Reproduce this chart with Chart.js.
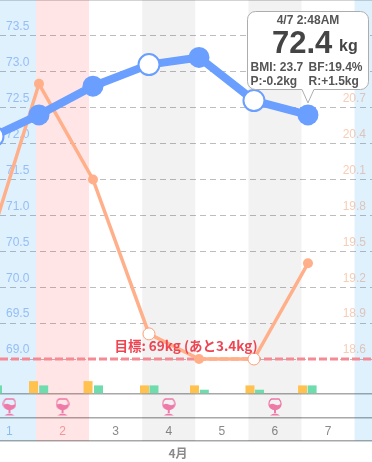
<!DOCTYPE html>
<html>
<head>
<meta charset="utf-8">
<script src="https://cdn.jsdelivr.net/npm/chart.js@4"></script>
<style>
  html, body { margin: 0; padding: 0; background: #fff; }
  #wrap { width: 372px; height: 462px; }
</style>
</head>
<body>
<div id="wrap"><canvas id="chart" width="372" height="462"></canvas></div>
<script>
// weighings (x = day of month + time of day)
const times = [1.19, 2.056, 3.073, 4.128, 5.07, 6.105, 7.122];
const weight = [72.1, 72.4, 72.8, 73.1, 73.2, 72.6, 72.4];
const bodyFat = [19.66, 20.9, 20.1, 18.81, 18.6, 18.6, 19.4];
const hollowWeight = [true, false, false, true, false, true, false];
const hollowFat = [false, false, false, true, false, true, false];

const days = [1, 2, 3, 4, 5, 6, 7];
const bandDays = [1, 2, 3, 4, 5, 6, 7, 8];
const bandColors = ['rgba(0,140,245,0.12)', 'rgba(255,0,10,0.1)', 'rgba(0,0,0,0)', 'rgba(0,0,0,0.05)',
    'rgba(0,0,0,0)', 'rgba(0,0,0,0.05)', 'rgba(0,0,0,0)', 'rgba(0,140,245,0.12)'];
const dayColors = ['#9cc3ee', '#f5a5a8', '#8a8a8a', '#8a8a8a', '#8a8a8a', '#8a8a8a', '#8a8a8a'];

const yellowX = [1.953, 2.98, 4.043, 4.985, 6.03, 7.02];
const yellowY = [3, 3, 2, 2, 2, 2];
const greenX = [1.275, 2.145, 3.177, 4.222, 5.17, 6.21, 7.2];
const greenY = [2, 2, 2, 2, 1, 1, 2];
const wineDays = [1.5, 2.5, 4.5, 6.5];

const weightTicks = [69, 69.5, 70, 70.5, 71, 71.5, 72, 72.5, 73, 73.5];
const fatTicks = [18.6, 18.9, 19.2, 19.5, 19.8, 20.1, 20.4, 20.7];
const goal = 69;
const goalText = '目標: 69kg (あと3.4kg)';
const monthText = '4月';

const xMin = 1.322, xMax = 8.328;
const barMin = -10.93, barMax = 91.63;
const wineY = -3.02;
const stripLines = [barMax, 0, -5.6, barMin];

const FONT = '"Liberation Sans", sans-serif';

// axes sit inside the plot, no room needed around it
const noPadding = (scale) => {
    scale.paddingLeft = 0;
    scale.paddingRight = 0;
    scale.paddingTop = 0;
    scale.paddingBottom = 0;
    if (!scale.isHorizontal()) {
        scale.width = 0;
    }
};

// small wine glass used as point style
function wineGlass() {
    let c = document.createElement('canvas');
    c.width = 14;
    c.height = 18;
    let g = c.getContext('2d');
    g.strokeStyle = '#ee7aa8';
    g.fillStyle = '#ee7aa8';
    g.lineWidth = 1.3;
    g.beginPath();
    g.moveTo(3, 1);
    g.lineTo(11, 1);
    g.bezierCurveTo(14.5, 5, 13.5, 11, 7, 11.5);
    g.bezierCurveTo(0.5, 11, -0.5, 5, 3, 1);
    g.stroke();
    g.beginPath();
    g.moveTo(1.2, 7);
    g.quadraticCurveTo(4, 5, 7, 6.5);
    g.quadraticCurveTo(10, 8, 12.8, 6);
    g.bezierCurveTo(13, 9, 11, 11.5, 7, 11.5);
    g.bezierCurveTo(3, 11.5, 1.3, 9.5, 1.2, 7);
    g.fill();
    g.fillRect(6, 11, 2, 4);
    g.beginPath();
    g.moveTo(2, 17.5);
    g.quadraticCurveTo(7, 13.5, 12, 17.5);
    g.fill();
    return c;
}

// speech bubble and goal caption
const overlay = {
    id: 'overlay',
    afterDraw(chart) {
        let ctx = chart.ctx;
        let px = chart.scales.x.getPixelForValue(times[6]);
        let py = chart.scales.y.getPixelForValue(weight[6]);

        ctx.save();
        ctx.textBaseline = 'middle';
        ctx.textAlign = 'center';
        ctx.fillStyle = '#ee4553';
        ctx.font = 'bold 13.5px "Noto Sans CJK JP", sans-serif';
        ctx.fillText(goalText, 186, 346);
        ctx.fillStyle = '#8a8a8a';
        ctx.font = 'bold 12px "Noto Sans CJK JP", sans-serif';
        ctx.fillText(monthText, 178, 453);

        ctx.strokeStyle = '#adadad';
        ctx.lineWidth = 1;
        ctx.beginPath();
        ctx.moveTo(px - 6, 89.5);
        ctx.lineTo(px, py - 12);
        ctx.lineTo(px + 6, 89.5);
        ctx.arcTo(368.5, 89.5, 368.5, 11.5, 8);
        ctx.arcTo(368.5, 11.5, 247.5, 11.5, 8);
        ctx.arcTo(247.5, 11.5, 247.5, 89.5, 8);
        ctx.arcTo(247.5, 89.5, px - 6, 89.5, 8);
        ctx.closePath();
        ctx.fillStyle = '#fff';
        ctx.fill();
        ctx.stroke();

        ctx.fillStyle = '#555';
        ctx.font = 'bold 12px ' + FONT;
        ctx.fillText('4/7 2:48AM', 308, 21);
        ctx.textAlign = 'left';
        ctx.fillStyle = '#444';
        ctx.font = 'bold 31px ' + FONT;
        ctx.fillText('72.4', 272, 44);
        ctx.font = 'bold 16px ' + FONT;
        ctx.fillText('kg', 339, 47);
        ctx.fillStyle = '#555';
        ctx.font = 'bold 12px ' + FONT;
        ctx.fillText('BMI: 23.7', 250.5, 68);
        ctx.fillText('BF:19.4%', 308.5, 68);
        ctx.fillText('P:-0.2kg', 250.5, 82);
        ctx.fillText('R:+1.5kg', 308.5, 82);
        ctx.restore();
    }
};

new Chart(document.getElementById('chart').getContext('2d'), {
    plugins: [overlay],
    data: {
        datasets: [{
            type: 'bar',
            order: 6,
            yAxisID: 'strip',
            data: bandDays.map(d => ({ x: d + 0.5, y: [barMin, barMax] })),
            backgroundColor: bandColors,
            barThickness: 53.1,
            inflateAmount: 0,
            grouped: false
        }, {
            type: 'bar',
            order: 5,
            yAxisID: 'strip',
            data: yellowX.map((x, i) => ({ x: x, y: yellowY[i] })),
            backgroundColor: '#ffc24f',
            barThickness: 9,
            inflateAmount: 0,
            grouped: false
        }, {
            type: 'bar',
            order: 5,
            yAxisID: 'strip',
            data: greenX.map((x, i) => ({ x: x, y: greenY[i] })),
            backgroundColor: '#6fdcae',
            barThickness: 9,
            inflateAmount: 0,
            grouped: false
        }, {
            type: 'line',
            order: 3,
            yAxisID: 'y',
            data: [{ x: xMin, y: goal }, { x: xMax, y: goal }],
            borderColor: '#f58a94',
            borderWidth: 3,
            borderDash: [8, 3],
            pointRadius: 0
        }, {
            type: 'line',
            order: 2,
            yAxisID: 'fat',
            data: times.map((x, i) => ({ x: x, y: bodyFat[i] })),
            borderColor: '#ffb08a',
            borderWidth: 3.5,
            tension: 0,
            pointRadius: hollowFat.map(h => h ? 6 : 5),
            pointBorderWidth: hollowFat.map(h => h ? 1 : 0),
            pointBorderColor: '#ff9f74',
            pointBackgroundColor: hollowFat.map(h => h ? '#fff' : '#ffb08a')
        }, {
            type: 'line',
            order: 1,
            yAxisID: 'y',
            data: times.map((x, i) => ({ x: x, y: weight[i] })),
            borderColor: '#6a9eff',
            borderWidth: 8,
            tension: 0,
            pointRadius: 10.5,
            pointBorderWidth: hollowWeight.map(h => h ? 2 : 0),
            pointBorderColor: '#6a9eff',
            pointBackgroundColor: hollowWeight.map(h => h ? '#fff' : '#6a9eff')
        }, {
            type: 'line',
            order: 1,
            yAxisID: 'strip',
            showLine: false,
            data: wineDays.map(x => ({ x: x, y: wineY })),
            pointStyle: wineGlass(),
            pointRadius: 9
        }]
    },
    options: {
        responsive: false,
        animation: false,
        events: [],
        layout: { autoPadding: false, padding: { left: 0, right: 0, top: 0, bottom: 21 } },
        plugins: {
            legend: { display: false },
            tooltip: { enabled: false }
        },
        scales: {
            x: {
                type: 'linear',
                offset: false,
                min: xMin,
                max: xMax,
                grid: { display: false, offset: false },
                border: { display: false },
                afterFit: noPadding,
                afterBuildTicks: (scale) => {
                    scale.ticks = days.map(d => ({ value: d + 0.5 }));
                },
                ticks: {
                    autoSkip: false,
                    maxRotation: 0,
                    padding: -25,
                    font: { family: FONT, size: 12 },
                    color: (c) => dayColors[Math.floor(c.tick.value) - 1],
                    callback: (v) => String(Math.floor(v))
                }
            },
            y: {
                position: 'left',
                min: 67.858,
                max: 74,
                grid: { drawTicks: false, color: '#bdbdbd', lineWidth: 1 },
                border: { display: false, dash: [6, 4] },
                afterFit: noPadding,
                afterBuildTicks: (scale) => {
                    scale.ticks = weightTicks.map(v => ({ value: v }));
                },
                ticks: {
                    mirror: true,
                    padding: 6,
                    labelOffset: -9,
                    color: '#a9c6f6',
                    font: { family: FONT, size: 12 },
                    callback: (v) => v.toFixed(1)
                }
            },
            fat: {
                position: 'right',
                min: 17.915,
                max: 21.6,
                grid: { display: false },
                border: { display: false },
                afterFit: noPadding,
                afterBuildTicks: (scale) => {
                    scale.ticks = fatTicks.map(v => ({ value: v }));
                },
                ticks: {
                    mirror: true,
                    padding: -6,
                    labelOffset: -9,
                    color: '#f8cdb6',
                    font: { family: FONT, size: 12 },
                    callback: (v) => v.toFixed(1)
                }
            },
            strip: {
                position: 'left',
                min: barMin,
                max: barMax,
                grid: { drawTicks: false, color: '#a8a8a8', lineWidth: 1.5 },
                border: { display: false },
                afterFit: noPadding,
                afterBuildTicks: (scale) => {
                    scale.ticks = stripLines.map(v => ({ value: v }));
                },
                ticks: { display: false }
            }
        }
    }
});
</script>
</body>
</html>
